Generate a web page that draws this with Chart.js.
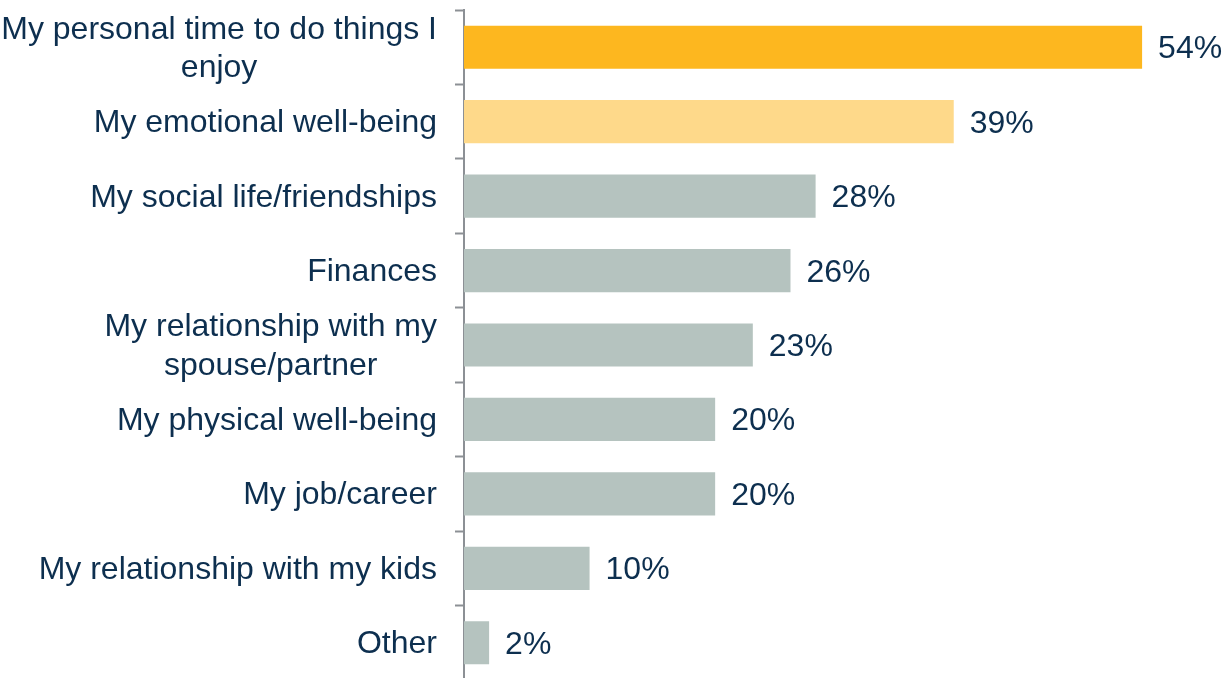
<!DOCTYPE html>
<html>
<head>
<meta charset="utf-8">
<script src="https://cdn.jsdelivr.net/npm/chart.js@4/dist/chart.umd.min.js"></script>
<style>
  html, body { margin: 0; padding: 0; background: #fff; overflow: hidden; }
  #wrap { position: relative; width: 1230px; height: 690px; }
</style>
</head>
<body>
<div id="wrap"><canvas id="chart"></canvas></div>
<script>
// categories (multi-line labels as arrays)
const categories = [
  ['My personal time to do things I', 'enjoy'],
  'My emotional well-being',
  'My social life/friendships',
  'Finances',
  ['My relationship with my', 'spouse/partner'],
  'My physical well-being',
  'My job/career',
  'My relationship with my kids',
  'Other'
];
const values = [54, 39, 28, 26, 23, 20, 20, 10, 2];
const barColors = ['#fdb71f', '#fed98a', '#b5c3bf', '#b5c3bf', '#b5c3bf', '#b5c3bf', '#b5c3bf', '#b5c3bf', '#b5c3bf'];

const textColor = '#0d2f4f';
const labelFont = '32px "Liberation Sans", Arial, sans-serif';
const baselineShift = 10.5;

// category labels: right aligned, extra lines centred on the widest line
const categoryLabels = {
  id: 'categoryLabels',
  afterDraw(chart) {
    const ctx = chart.ctx;
    const yScale = chart.scales.y;
    const right = chart.chartArea.left - 27;
    const lh = 38.3;
    ctx.save();
    ctx.font = labelFont;
    ctx.fillStyle = textColor;
    ctx.textBaseline = 'alphabetic';
    ctx.textAlign = 'center';
    categories.forEach((cat, i) => {
      const lines = Array.isArray(cat) ? cat : [cat];
      const widest = Math.max(...lines.map(l => ctx.measureText(l).width));
      const cx = right - widest / 2;
      const cy = yScale.getPixelForTick(i) + baselineShift;
      lines.forEach((line, k) => {
        ctx.fillText(line, cx, cy - (lines.length - 1) * lh / 2 + k * lh);
      });
    });
    ctx.restore();
  }
};

// value labels at the end of each bar
const valueLabels = {
  id: 'valueLabels',
  afterDatasetsDraw(chart) {
    const ctx = chart.ctx;
    const meta = chart.getDatasetMeta(0);
    ctx.save();
    ctx.font = labelFont;
    ctx.fillStyle = textColor;
    ctx.textBaseline = 'alphabetic';
    ctx.textAlign = 'left';
    meta.data.forEach((bar, i) => {
      ctx.fillText(values[i] + '%', bar.x + 16, bar.y + baselineShift + 0.5);
    });
    ctx.restore();
  }
};

new Chart(document.getElementById('chart'), {
  type: 'bar',
  data: {
    labels: categories,
    datasets: [{
      data: values,
      backgroundColor: barColors,
      borderWidth: 0,
      barPercentage: 0.58,
      categoryPercentage: 1
    }]
  },
  options: {
    indexAxis: 'y',
    responsive: true,
    maintainAspectRatio: false,
    animation: false,
    layout: { padding: { top: 10, bottom: 10, left: 0, right: 0 } },
    plugins: {
      legend: { display: false },
      tooltip: { enabled: false }
    },
    scales: {
      x: {
        display: false,
        min: 0,
        max: 61
      },
      y: {
        z: 1,
        ticks: { display: false },
        grid: {
          drawOnChartArea: false,
          drawTicks: true,
          tickLength: 9,
          tickWidth: 2,
          color: '#8c9095'
        },
        border: { display: true, color: '#8c9095', width: 2 },
        afterFit(scale) { scale.width = 464; }
      }
    }
  },
  plugins: [categoryLabels, valueLabels]
});
</script>
</body>
</html>
